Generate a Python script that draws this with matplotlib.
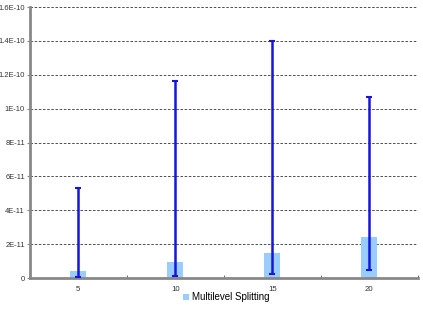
import matplotlib
matplotlib.use("Agg")
import matplotlib.pyplot as plt
import numpy as np

plt.rcParams['font.family'] = ['Liberation Sans', 'DejaVu Sans']

categories = ["5", "10", "15", "20"]
values = [4.3e-12, 9.6e-12, 1.46e-11, 2.44e-11]
err_low = [6e-13, 1.4e-12, 2.4e-12, 4.7e-12]
err_high = [5.33e-11, 1.163e-10, 1.40e-10, 1.069e-10]
yticks = [0, 2e-11, 4e-11, 6e-11, 8e-11, 1e-10, 1.2e-10, 1.4e-10, 1.6e-10]
ytick_labels = ["0", "2E-11", "4E-11", "6E-11", "8E-11", "1E-10", "1.2E-10", "1.4E-10", "1.6E-10"]

fig = plt.figure(figsize=(4.23, 3.09), dpi=100)
ax = fig.add_axes([0.0700, 0.1003, 0.9180, 0.8767])

x = np.arange(len(categories))
vals = np.array(values)
lower = vals - np.array(err_low)
upper = np.array(err_high) - vals
ax.bar(x, vals, width=0.165, color="#99CCFF", label="Multilevel Splitting", zorder=2)
ax.errorbar(x, vals, yerr=[lower, upper], fmt="none", ecolor="#1515DD",
            elinewidth=1.8, capsize=2.5, capthick=1.5, zorder=3)

ax.set_xlim(-0.5, 3.5)
ax.set_ylim(0, 1.6e-10)
ax.set_yticks(yticks)
ax.set_yticklabels(ytick_labels)
ax.set_xticks(x)
ax.set_xticklabels(categories)
ax.set_xticks([0.5, 1.5, 2.5, 3.5], minor=True)
ax.tick_params(axis="x", which="major", length=0, labelsize=5.6, colors="#333333", pad=6)
ax.tick_params(axis="x", which="minor", length=2, color="#555555", direction="in")
ax.tick_params(axis="y", length=2.5, labelsize=5.4, colors="#333333", pad=0.8, color="#888888")

ax.yaxis.grid(True, linestyle=(0, (3, 2)), color="#333333", linewidth=0.6, zorder=0)
ax.set_axisbelow(True)
for s in ["top", "right"]:
    ax.spines[s].set_visible(False)
for s in ["left", "bottom"]:
    ax.spines[s].set_color("#888888")
    ax.spines[s].set_linewidth(2)

leg = fig.legend(loc="center", bbox_to_anchor=(0.535, 0.038), frameon=False,
                 fontsize=7, handlelength=0.6, handleheight=0.6, handletextpad=0.4)

fig.savefig("out.png", dpi=100)
